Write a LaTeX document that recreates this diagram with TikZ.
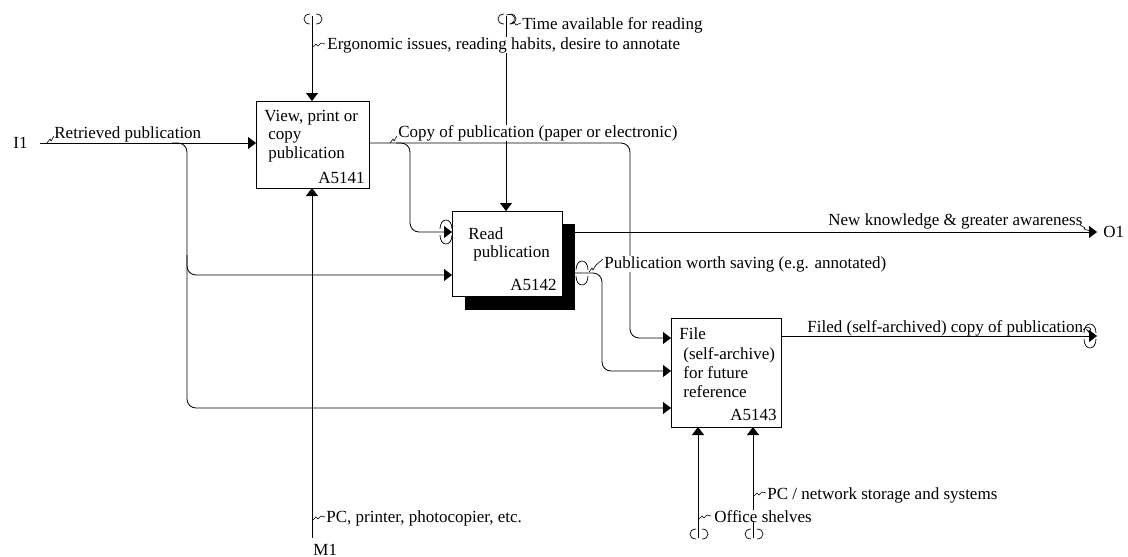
\documentclass[tikz,border=0pt]{standalone}
\usepackage{fontspec}
\setmainfont{Liberation Serif}
\usetikzlibrary{arrows.meta}
\begin{document}
\begin{tikzpicture}[x=1pt,y=-1pt, line width=0.8pt,
  lbl/.style={anchor=base west, inner sep=0pt, font=\fontsize{17}{19}\selectfont},
  lblw/.style={lbl, fill=white, inner xsep=1pt},
  boxstyle/.style={draw, fill=white, anchor=north west, inner sep=0pt},
  arr/.style={-{Triangle[length=8pt,width=12pt]}},
  flow/.style={rounded corners=9pt},
  vtun/.pic={\draw[line width=0.7pt] (-3,-5) .. controls (-11,-5) and (-11,5) .. (-3,5);
             \draw[line width=0.7pt] (3,-5) .. controls (11,-5) and (11,5) .. (3,5);},
  htun/.pic={\draw[line width=0.7pt] (-6,-3) .. controls (-6,-15) and (6,-15) .. (6,-3);
             \draw[line width=0.7pt] (-6,3) .. controls (-6,15) and (6,15) .. (6,3);},
  hsq/.pic={\draw[line width=0.6pt] (0,0) -- (3,-4) -- (4,-2) -- (7,-7);},
  vsq/.pic={\draw[line width=0.6pt] (0,1) -- (3,-2) -- (5,0) -- (8,-3) -- (12,-2);},
]
\useasboundingbox (0,0) rectangle (1128,557);

% ---------- boxes ----------
\node[boxstyle, minimum width=113pt, minimum height=87pt] (A1) at (256,101) {};
\fill (465,224) rectangle (575,310);
\node[boxstyle, minimum width=110pt, minimum height=85pt] (A2) at (452,211) {};
\node[boxstyle, minimum width=110pt, minimum height=109pt] (A3) at (671,318) {};

\node[lbl] (t1a) at (264,121) {View, print or};
\node[lbl] (t1b) at (268,139) {copy};
\node[lbl] (t1c) at (268,158) {publication};
\node[lbl, anchor=base east] (n1) at (365,183) {A5141};

\node[lbl] (t2a) at (468,239) {Read};
\node[lbl] (t2b) at (473,257) {publication};
\node[lbl, anchor=base east] (n2) at (557,290) {A5142};

\node[lbl] (t3a) at (679,339) {File};
\node[lbl] (t3b) at (683,359) {(self-archive)};
\node[lbl] (t3c) at (683,378) {for future};
\node[lbl] (t3d) at (683,397) {reference};
\node[lbl, anchor=base east] (n3) at (777,420) {A5143};

% ---------- ports ----------
\coordinate (pA1i) at (256,143);
\coordinate (pA1o) at (369,143);
\coordinate (pA1c) at (312,101);
\coordinate (pA1m) at (312,188);
\coordinate (pA2c) at (506,211);
\coordinate (pA2i1) at (452,232);
\coordinate (pA2i2) at (452,275);
\coordinate (pA2o1) at (575,232);
\coordinate (pA2o2) at (575,273);
\coordinate (pA3i1) at (671,338);
\coordinate (pA3i2) at (671,371);
\coordinate (pA3i3) at (671,408);
\coordinate (pA3o) at (781,336);
\coordinate (pA3m1) at (698,427);
\coordinate (pA3m2) at (753,427);

\coordinate (I1end) at (40,143);
\coordinate (I1br0) at (172,143);
\coordinate (I1br) at (187,143);
\coordinate (I1br2) at (187,255);
\coordinate (A1br0) at (396,143);
\coordinate (A1br) at (410,143);
\coordinate (A1turn) at (630,143);
\coordinate (A2br) at (602,273);
\coordinate (C1top) at (312,16);
\coordinate (C2top) at (506,16);
\coordinate (M1bot) at (312,538);
\coordinate (M2bot) at (698,538);
\coordinate (M3bot) at (753,538);
\coordinate (O1end) at (1097,232);
\coordinate (O2end) at (1097,336);

% ---------- connectors ----------
\draw[arr] (I1end) -- (pA1i);
\draw[arr,flow] (I1br0) -- (I1br) |- (pA2i2);
\draw[arr,flow] (I1br2) |- (pA3i3);
\draw[arr,flow] (pA1o) -- (A1turn) |- (pA3i1);
\draw[arr,flow] (A1br0) -- (A1br) |- (pA2i1);
\draw[arr] (pA2o1) -- (O1end);
\draw[arr,flow] (pA2o2) -- (A2br) |- (pA3i2);
\draw[arr] (pA3o) -- (O2end);
\draw[arr] (C1top) -- (pA1c);
\draw[arr] (C2top) -- (pA2c);
\draw[arr] (M1bot) -- (pA1m);
\draw[arr] (M2bot) -- (pA3m1);
\draw[arr] (M3bot) -- (pA3m2);

% ---------- tunnels ----------
\pic at (313,19) {vtun};
\pic at (507,19) {vtun};
\pic at (699,534) {vtun};
\pic at (754,534) {vtun};
\pic at (446,232) {htun};
\pic at (582,273) {htun};
\pic at (1090,336) {htun};

% ---------- labels ----------
\node[lbl] (I1) at (13,148) {I1};
\node[lbl] (M1) at (313,555) {M1};
\node[lbl] (O1) at (1103,237) {O1};

\node[lbl] (l1) at (54,138) {Retrieved publication};
\node[lblw] (l2) at (397,137) {Copy of publication (paper or electronic)};
\node[lblw] (l3) at (326,49) {Ergonomic issues, reading habits, desire to annotate};
\node[lbl] (l4) at (522,29) {Time available for reading};
\node[lbl] (l5) at (828,225) {New knowledge \& greater awareness};
\node[lblw] (l6) at (603,268) {Publication worth saving (e.g. annotated)};
\node[lbl] (l7) at (807,332) {Filed (self-archived) copy of publication};
\node[lbl] (l8) at (767,499) {PC / network storage and systems};
\node[lblw] (l9) at (713,522) {Office shelves};
\node[lbl] (l10) at (326,522) {PC, printer, photocopier, etc.};

% ---------- squiggles ----------
\pic at (47,143) {hsq};
\pic at (390,143) {hsq};
\pic at (589,272) {hsq};
\draw[line width=0.6pt] (596,265) -- (603,259);
\pic at (313,46) {vsq};
\pic at (313,519) {vsq};
\pic at (699,518) {vsq};
\pic at (754,495) {vsq};
\draw[line width=0.6pt] (506,15) .. controls (515,12) and (518,21) .. (510,24) -- (514,22) -- (516,25) -- (521,23);
\draw[line width=0.6pt] (1080,225) -- (1085,228) -- (1084,229) -- (1090,231);
\draw[line width=0.6pt] (1083,330) .. controls (1086,325) and (1093,327) .. (1090,332) -- (1087,330) -- (1092,336);
\end{tikzpicture}
\end{document}
